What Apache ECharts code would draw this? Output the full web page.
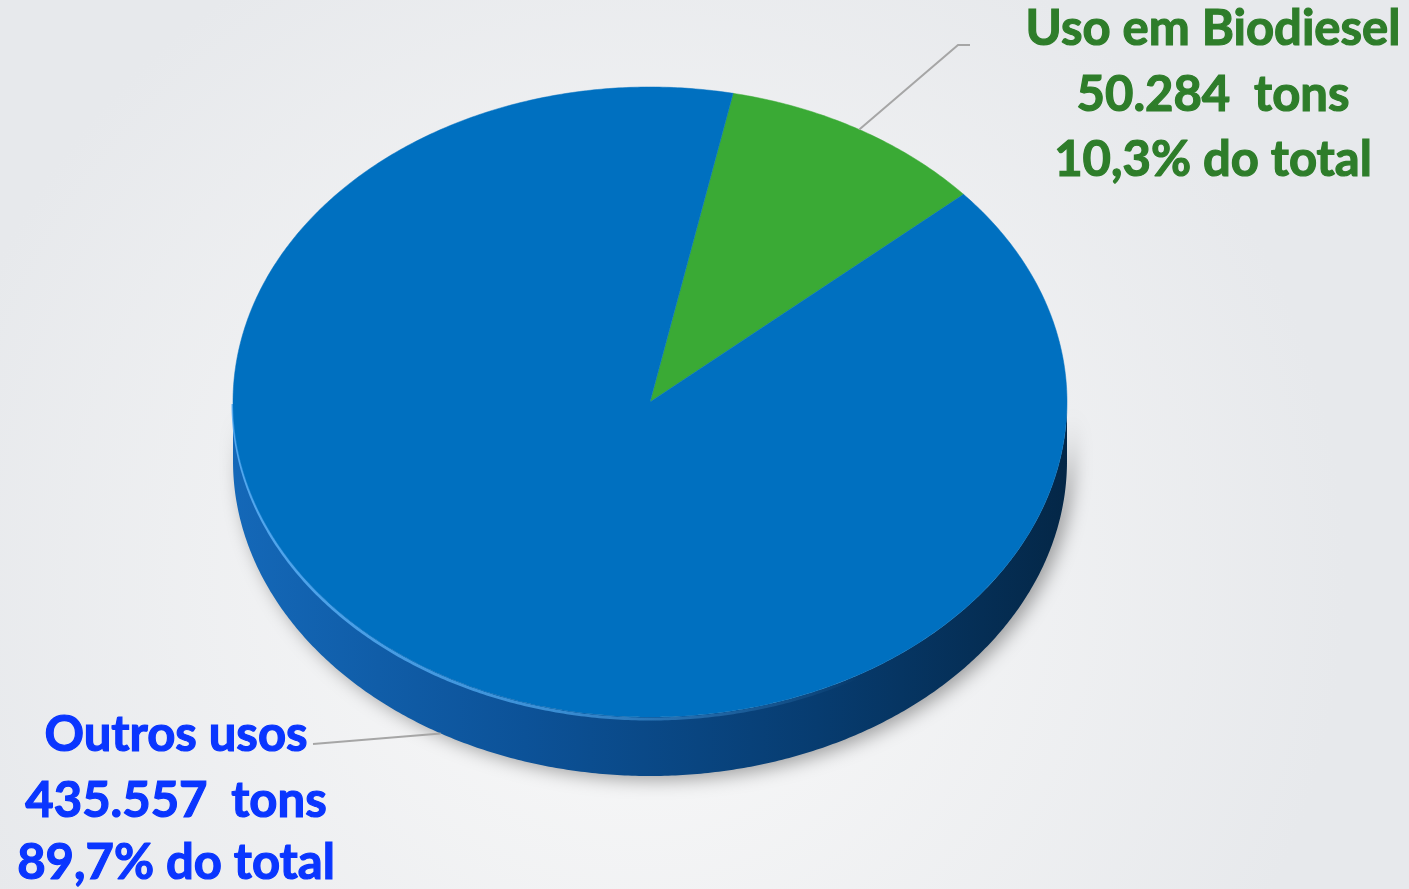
<!DOCTYPE html>
<html><head><meta charset="utf-8">
<script src="https://cdn.jsdelivr.net/npm/echarts@6/dist/echarts.min.js"></script>
<style>html,body{margin:0;padding:0;background:#f0f1f3;}#c{width:1409px;height:889px;}</style>
</head><body><div id="c"></div>
<script>
// ---- data ----
const categories = ['Uso em Biodiesel', 'Outros usos'];
const values = [50284, 435557];
const unitText = 'tons';
const suffixText = 'do total';
const topColors = ['#3aaa35', '#0070c0'];
const textColors = ['#2e7d2a', '#0a36ff'];

// ---- helpers ----
const total = values.reduce((a, b) => a + b, 0);
function fmtInt(n) { return String(n).replace(/\B(?=(\d{3})+(?!\d))/g, '.'); }
function fmtPct(v) { return (v / total * 100).toFixed(1).replace('.', ',') + '%'; }

const START = -78.5;           // start angle of first slice (deg, clockwise from 3 o'clock)
const G = { cx: 650, cy: 402, rx: 417, ry: 315, depth: 59 };
// label anchors (where leader lines end) and text centres / baselines
const labelLayout = [
  { lineTo: [[958, 45], [970, 45]], x: 1213, baselines: [46, 112, 177], fromTop: true },
  { lineTo: [[313, 744]], x: 176, baselines: [752, 818, 880], fromTop: false }
];
const ASCENT = 41;

function P(t, dz) {
  const r = t * Math.PI / 180;
  return [G.cx + G.rx * Math.cos(r), G.cy + G.ry * Math.sin(r) + (dz || 0)];
}

function renderItem(params, api) {
  const i = params.dataIndex;
  let before = 0;
  for (let k = 0; k < i; k++) before += values[k];
  const v = api.value(0);
  const a1 = START + before / total * 360;
  const a2 = a1 + v / total * 360;
  const children = [];

  // side wall (front half: 0..180 deg)
  for (const off of [-360, 0, 360]) {
    const s = Math.max(a1, off), e = Math.min(a2, off + 180);
    if (e > s) {
      const pts = [];
      for (let t = s; t <= e; t += 0.5) pts.push(P(t));
      pts.push(P(e));
      for (let t = e; t >= s; t -= 0.5) pts.push(P(t, G.depth));
      pts.push(P(s, G.depth));
      children.push({
        type: 'polygon', shape: { points: pts },
        style: {
          fill: new echarts.graphic.LinearGradient(0, 0, 1, 0, [
            { offset: 0, color: '#1468b8' },
            { offset: 0.35, color: '#0c5298' },
            { offset: 0.7, color: '#073c70' },
            { offset: 1, color: '#042747' }
          ]),
          shadowBlur: 18, shadowColor: 'rgba(0,0,0,0.35)', shadowOffsetX: 6, shadowOffsetY: 4
        }
      });
      // bevel highlight along the front top edge
      const hl = [];
      const hs = Math.max(s, off + 60), he = e;
      for (let t = hs; t <= he; t += 0.5) hl.push(P(t, 2));
      if (hl.length > 1) children.push({
        type: 'polyline', shape: { points: hl },
        style: {
          fill: null, lineWidth: 3,
          stroke: new echarts.graphic.LinearGradient(1, 0, 0, 0, [
            { offset: 0, color: 'rgba(80,170,240,0)' },
            { offset: 0.5, color: 'rgba(80,170,240,0.7)' },
            { offset: 1, color: 'rgba(90,175,245,0.9)' }
          ])
        }
      });
    }
  }

  // top face
  const top = [[G.cx, G.cy]];
  for (let t = a1; t <= a2; t += 0.5) top.push(P(t));
  top.push(P(a2));
  children.push({
    type: 'polygon', shape: { points: top },
    style: { fill: api.visual('color'), stroke: api.visual('color'), lineWidth: 0.5 }
  });

  // leader line
  const lay = labelLayout[i];
  const mid = (a1 + a2) / 2;
  const start = lay.fromTop ? P(mid) : P(mid, G.depth);
  children.push({
    type: 'polyline', shape: { points: [start].concat(lay.lineTo) },
    style: { fill: null, stroke: '#a6a6a6', lineWidth: 2 }
  });

  // label text
  const lines = [categories[i], fmtInt(values[i]) + '  ' + unitText, fmtPct(values[i]) + ' ' + suffixText];
  lines.forEach((txt, j) => {
    children.push({
      type: 'text',
      style: {
        text: txt, x: lay.x, y: lay.baselines[j] - ASCENT,
        align: 'center', verticalAlign: 'top',
        font: 'bold 49px Lato', fill: textColors[i],
        stroke: textColors[i], lineWidth: 1.2
      }
    });
  });

  return { type: 'group', children: children };
}

const chart = echarts.init(document.getElementById('c'));
chart.setOption({
  animation: false,
  backgroundColor: {
    type: 'radial', x: 0.45, y: 0.65, r: 0.8,
    colorStops: [{ offset: 0, color: '#fafafa' }, { offset: 1, color: '#e7e9ec' }]
  },
  series: [{
    type: 'custom',
    coordinateSystem: 'none',
    renderItem: renderItem,
    data: values.map((v, i) => ({ name: categories[i], value: [v], itemStyle: { color: topColors[i] } }))
  }]
});
</script>
</body></html>
